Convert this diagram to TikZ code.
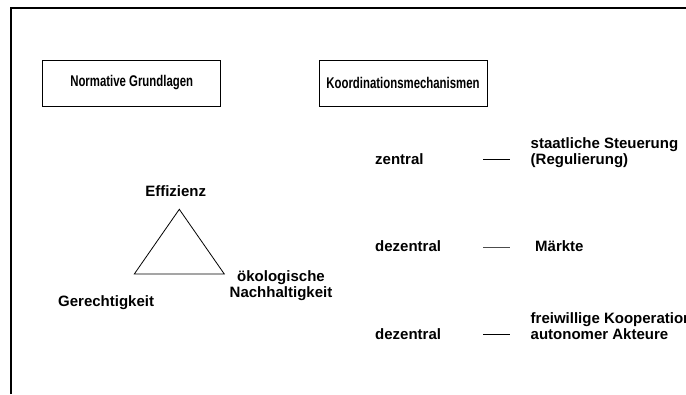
\documentclass[tikz,border=0pt]{standalone}
\usepackage{fontspec}
\setmainfont{Liberation Sans}
\newfontfamily\narrowsans[FakeStretch=0.735]{Liberation Sans}
\begin{document}
\begin{tikzpicture}[x=1pt,y=-1pt,
  lbl/.style={font=\fontsize{15}{16}\selectfont\bfseries, inner sep=0pt},
  headbox/.style={draw, line width=0.9pt, minimum width=178pt, minimum height=46pt, inner sep=0pt, font=\narrowsans\fontsize{15.5}{16}\selectfont\bfseries},
  edge/.style={line width=0.8pt},
  link/.style={line width=1pt}]
\useasboundingbox (0,0) rectangle (686,394);
\clip (0,0) rectangle (686,394);
% open frame: left and top edges
\draw[line width=1.5pt] (11,394) -- (11,8) -- (686,8);
% headings
\node[headbox] (norm) at (131.7,83) {Normative Grundlagen};
\node[headbox, minimum width=168pt] (koord) at (403,83) {Koordinationsmechanismen};
% triangle of normative goals
\coordinate (top) at (179.3,209.3);
\coordinate (bl) at (134.3,274);
\coordinate (br) at (224.3,274);
\draw[edge, line join=miter] (top) -- (bl) -- (br) -- cycle;
\node[lbl, anchor=base] (eff) at (175.7,196) {Effizienz};
\node[lbl, anchor=base west] (ger) at (58,306) {Gerechtigkeit};
\node[lbl, anchor=base, align=center] (oek) at (281,297.3) {ökologische\\Nachhaltigkeit};
% coordination mechanisms
\node[lbl, anchor=base west] (z1) at (375,164) {zentral};
\node[lbl, anchor=base west, align=left] (m1) at (530.5,164) {staatliche Steuerung\\(Regulierung)};
\node[lbl, anchor=base west] (z2) at (375,251.7) {dezentral};
\node[lbl, anchor=base west] (m2) at (535,251.7) {Märkte};
\node[lbl, anchor=base west] (z3) at (375,339.3) {dezentral};
\node[lbl, anchor=base west, align=left] (m3) at (530.5,339.3) {freiwillige Kooperation\\autonomer Akteure};
\coordinate (d1a) at (483.3,159.3); \coordinate (d1b) at (510,159.3);
\coordinate (d2a) at (483.3,247.7); \coordinate (d2b) at (510,247.7);
\coordinate (d3a) at (483.3,334.7); \coordinate (d3b) at (510,334.7);
\draw[link] (d1a) -- (d1b);
\draw[link, black!70] (d2a) -- (d2b);
\draw[link] (d3a) -- (d3b);
\end{tikzpicture}
\end{document}
